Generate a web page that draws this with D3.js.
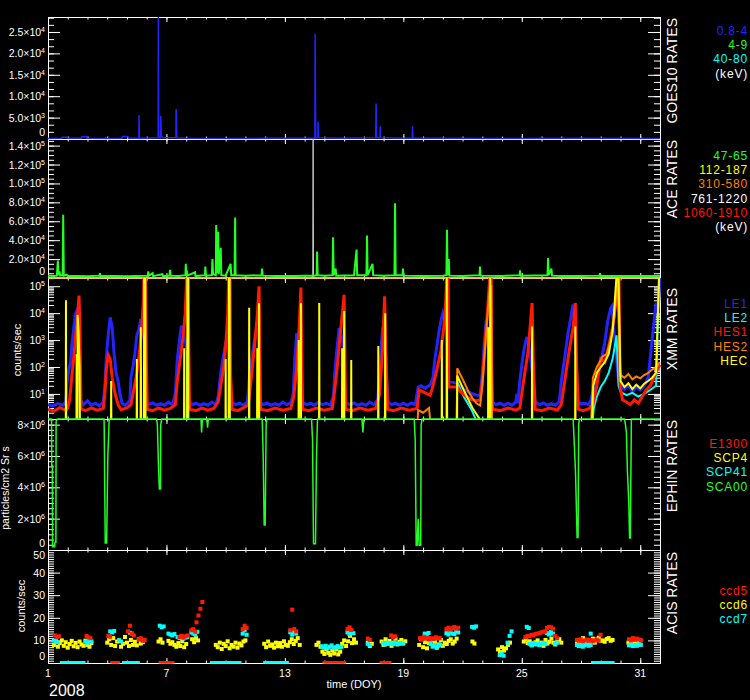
<!DOCTYPE html>
<html><head><meta charset="utf-8">
<script src="https://cdn.jsdelivr.net/npm/d3@7"></script>
<style>
body{margin:0;background:#000}
svg{display:block;background:#000}
text{font-family:"Liberation Sans",Arial,sans-serif;fill:#fff}
</style></head><body>
<svg id="chart" width="750" height="700"></svg>
<script>
// ---------------- DATA ----------------
const dayTicksMajor = [1, 7, 13, 19, 25, 31];
const dayTicksMinor = d3.range(1, 33);
const dayLabels = ["1", "7", "13", "19", "25", "31"];

// GOES10 0.8-4 keV rates: [DOY, rate]
const goes08to4 = [[1.0,100],[1.7,150],[1.72,400],[1.95,400],[1.97,150],[2.7,150],[2.72,500],[2.95,500],[2.97,150],[3.9,100],[3.92,300],[3.96,100],[4.75,150],[4.77,600],[5.05,600],[5.07,150],[5.6,150],[5.61,5600],[5.63,150],[6.0,200],[6.58,300],[6.59,30000],[6.61,300],[6.70,300],[6.71,5400],[6.74,800],[6.8,300],[7.48,300],[7.49,7000],[7.51,3500],[7.53,300],[8.0,150],[10.0,120],[12.0,150],[14.52,200],[14.53,24500],[14.56,300],[14.67,300],[14.68,4000],[14.7,300],[16.0,200],[17.6,300],[17.62,8300],[17.65,300],[17.82,300],[17.83,3000],[17.85,300],[19.45,200],[19.46,3000],[19.48,200],[21.0,150],[24.0,120],[28.0,150],[32,100]];

// ACE rates: [DOY, rate]
const ace47to65 = [[1.0,2500],[1.3,2000],[1.45,2500],[1.5,18400],[1.53,3000],[1.58,7000],[1.62,2500],[1.74,3000],[1.77,67000],[1.8,2500],[1.95,3500],[2.0,2000],[2.5,2200],[3.0,1800],[3.6,2500],[3.63,5000],[3.66,2000],[4.3,2000],[5.0,1800],[5.5,2200],[6.05,2500],[6.08,7000],[6.11,2500],[6.3,5000],[6.32,2000],[6.8,4000],[6.82,2000],[7.15,2500],[7.18,8500],[7.21,2500],[7.6,2000],[7.96,3000],[7.98,15000],[8.0,3000],[8.03,8000],[8.06,2500],[8.45,6000],[8.47,2000],[8.95,3000],[8.97,12000],[9.0,2500],[9.3,3000],[9.33,20000],[9.36,4000],[9.5,3000],[9.52,56000],[9.55,5000],[9.62,49000],[9.65,4000],[9.75,32000],[9.78,3000],[10.0,2500],[10.25,15000],[10.28,3000],[10.45,3000],[10.48,64000],[10.5,3000],[11.0,2500],[11.82,3000],[11.84,10000],[11.87,2500],[12.5,2000],[13.0,2200],[13.5,2000],[14.0,2500],[14.5,2500],[14.61,3000],[14.63,28000],[14.66,3000],[15.0,2500],[15.41,3000],[15.44,43000],[15.47,3000],[15.57,10000],[15.6,2500],[16.5,3000],[16.63,30000],[16.66,3000],[17.13,3000],[17.16,45000],[17.19,3000],[17.44,15000],[17.47,3000],[18.0,2500],[18.55,3000],[18.58,79000],[18.61,3000],[18.96,3000],[18.98,10000],[19.01,2500],[20.0,2200],[21.0,2500],[21.18,3000],[21.21,51000],[21.24,3000],[21.3,20000],[21.33,2500],[22.0,2200],[22.86,3000],[22.88,12000],[22.91,2500],[24.0,2200],[24.89,3000],[24.91,8000],[24.94,2500],[26.3,3000],[26.33,21000],[26.36,3000],[26.5,10000],[26.53,2500],[27.0,2200],[28.0,2000],[28.94,2500],[28.96,5000],[28.99,2000],[30.0,2000],[31.0,2200],[32.0,2000]];
const ace112to187 = [[1,0],[32,0]];
const ace310to580 = [[1,0],[32,0]];
const ace761to1220 = [[1,0],[14.41,0],[14.43,160000],[14.45,0],[32,0]];
const ace1060to1910 = [[1,0],[32,0]];

// XMM rates: [DOY, counts/sec]
const xmmLE1 = [[1.0,4],[1.25,3.6],[1.5,4.4],[1.75,3.8],[1.9,5],[1.95,20],[2.05,80],[2.15,150],[2.2,600],[2.3,2500],[2.38,9000],[2.45,12000],[2.5,6000],[2.55,2000],[2.6,300],[2.65,6],[2.8,4],[3.0,5.5],[3.2,3.8],[3.4,4.5],[3.6,3.6],[3.8,5],[3.9,30],[3.95,200],[4.05,1500],[4.15,7000],[4.25,3000],[4.35,300],[4.45,60],[4.55,30],[4.65,10],[4.75,4.5],[4.9,3.8],[5.05,4.6],[5.15,6],[5.2,40],[5.3,100],[5.4,300],[5.5,1500],[5.6,2500],[5.7,6000],[5.8,3000],[5.88,800],[5.95,10],[6.05,4],[6.3,4.6],[6.5,3.8],[6.7,4.4],[6.9,3.8],[7.1,5],[7.3,4],[7.45,10],[7.55,200],[7.65,800],[7.75,3400],[7.85,2000],[7.95,1000],[8.05,300],[8.12,6],[8.3,4],[8.5,4.5],[8.7,3.8],[8.9,4.4],[9.1,3.8],[9.3,5],[9.5,4],[9.62,8],[9.75,60],[9.9,300],[10.0,800],[10.06,1000],[10.12,400],[10.2,60],[10.3,5],[10.5,4],[10.7,4.5],[10.9,3.8],[11.1,5],[11.2,40],[11.35,300],[11.5,1500],[11.58,2800],[11.65,1000],[11.72,5],[11.9,4],[12.1,4.6],[12.3,3.8],[12.5,4.4],[12.7,3.8],[12.9,5],[13.1,4],[13.3,4.6],[13.42,10],[13.5,200],[13.6,1800],[13.7,800],[13.8,300],[13.88,5],[14.1,4],[14.3,4.5],[14.5,3.8],[14.7,5],[14.9,4],[15.1,4.5],[15.3,3.8],[15.45,8],[15.55,100],[15.65,600],[15.75,2800],[15.85,1500],[15.95,600],[16.05,5],[16.3,4],[16.5,4.6],[16.7,3.8],[16.9,4.4],[17.1,3.8],[17.3,5],[17.5,4],[17.7,6],[17.8,80],[17.9,1000],[17.96,3200],[18.05,1000],[18.15,50],[18.23,5],[18.4,4],[18.6,4.5],[18.8,3.8],[19.0,4.5],[19.2,3.8],[19.4,4.6],[19.6,4],[19.75,18],[19.9,20],[20.1,16],[20.36,22],[20.5,40],[20.6,200],[20.7,600],[20.8,2000],[20.9,5000],[21.0,10000],[21.1,6000],[21.2,3000],[21.27,30],[21.73,24],[21.9,18],[22.1,14],[22.3,12],[22.5,10],[22.7,9],[22.89,9],[23.0,60],[23.1,800],[23.2,5600],[23.3,1000],[23.4,300],[23.5,5],[23.7,4],[23.9,4.5],[24.1,3.8],[24.3,4.5],[24.5,3.8],[24.7,5],[24.75,10],[24.8,4.5],[24.9,30],[25.0,120],[25.1,400],[25.2,900],[25.26,1300],[25.35,600],[25.45,200],[25.55,50],[25.68,5],[25.9,4],[26.1,4.6],[26.3,3.8],[26.5,4.4],[26.7,3.8],[26.9,5],[27.0,30],[27.2,300],[27.35,2000],[27.5,8000],[27.59,21000],[27.68,5000],[27.75,200],[27.86,5],[28.0,4.2],[28.2,4.5],[28.4,4],[28.5,6],[28.6,12],[28.8,40],[29.0,150],[29.2,800],[29.35,5000],[29.5,15000],[29.57,18000],[29.65,3000],[29.8,200],[29.9,30],[30.0,20],[30.2,15],[30.4,22],[30.6,12],[30.8,18],[31.0,14],[31.2,20],[31.4,40],[31.5,200],[31.6,1000],[31.7,5000],[31.8,24000],[31.9,10000],[32.0,200000]];
const xmmLE2 = [[1.0,0.5],[8.03,0.5],[8.05,400],[8.07,0.5],[10.15,0.5],[10.17,800],[10.19,0.5],[21.7,0.5],[21.73,28],[21.9,14],[22.1,7],[22.3,4],[22.5,2.2],[22.65,1.2],[22.7,0.5],[28.55,0.5],[28.65,3],[28.8,8],[29.0,18],[29.2,30],[29.4,60],[29.6,200],[29.8,1500],[29.9,20],[30.0,12],[30.3,9],[30.6,11],[30.9,8],[31.2,10],[31.5,14],[31.8,20],[31.95,200000],[32,200000]];
const xmmHES1 = [[1.0,2.7],[1.3,2.3],[1.6,3.1],[1.9,2.5],[2.0,3],[2.1,6],[2.2,40],[2.3,200],[2.4,1500],[2.5,8000],[2.57,45000],[2.62,3000],[2.67,2.8],[2.9,2.4],[3.2,3],[3.5,2.5],[3.8,2.9],[3.88,10],[3.95,80],[4.05,280],[4.15,200],[4.25,40],[4.4,10],[4.55,4],[4.7,2.6],[5.0,3],[5.2,4],[5.35,15],[5.5,60],[5.65,500],[5.75,3000],[5.83,30000],[5.86,250000],[5.95,250000],[5.98,200],[6.03,2.7],[6.3,2.4],[6.6,3],[6.9,2.5],[7.2,2.9],[7.45,4],[7.55,30],[7.7,200],[7.85,1500],[7.95,10000],[8.03,250000],[8.1,250000],[8.13,500],[8.17,2.7],[8.5,2.4],[8.8,3],[9.1,2.5],[9.4,2.9],[9.62,5],[9.75,20],[9.9,100],[10.0,600],[10.1,8000],[10.15,250000],[10.22,250000],[10.25,50],[10.33,2.7],[10.6,2.4],[10.9,3],[11.15,4],[11.3,40],[11.45,500],[11.6,8000],[11.69,100000],[11.73,1000],[11.77,2.7],[12.1,2.4],[12.5,3],[12.9,2.5],[13.3,2.9],[13.45,8],[13.6,100],[13.72,3000],[13.81,90000],[13.85,500],[13.9,2.7],[14.2,2.4],[14.6,3],[15.0,2.5],[15.4,2.9],[15.5,10],[15.65,100],[15.8,1500],[15.95,20000],[16.0,48000],[16.04,200],[16.08,2.7],[16.4,2.4],[16.8,3],[17.2,2.5],[17.6,2.9],[17.8,10],[17.95,500],[18.05,42000],[18.12,300],[18.2,2.7],[18.5,2.4],[18.9,3],[19.3,2.5],[19.7,2.9],[19.8,14],[20.0,12],[20.2,10],[20.36,9],[20.5,20],[20.7,80],[20.9,400],[21.05,3000],[21.15,30000],[21.2,250000],[21.27,250000],[21.3,18],[21.73,18],[21.9,12],[22.1,9],[22.3,7],[22.5,6],[22.7,5.6],[22.89,6],[23.0,30],[23.15,1000],[23.3,30000],[23.38,250000],[23.45,250000],[23.48,100],[23.52,2.7],[23.9,2.4],[24.3,3],[24.7,2.5],[24.9,3],[25.0,10],[25.15,60],[25.3,300],[25.42,3000],[25.52,24000],[25.58,200],[25.68,2.7],[26.0,2.4],[26.4,3],[26.8,2.5],[27.0,4],[27.2,40],[27.4,400],[27.6,3000],[27.71,24000],[27.78,100],[27.86,2.7],[28.1,2.4],[28.4,2.8],[28.6,4],[28.8,20],[29.0,200],[29.2,150],[29.4,600],[29.6,3000],[29.75,20000],[29.85,250000],[29.92,250000],[29.98,20],[30.1,6],[30.3,5],[30.5,4],[30.7,6],[30.9,4.5],[31.1,8],[31.3,14],[31.5,20],[31.7,40],[31.85,80],[32.0,120]];
const xmmHES2 = [[1.0,0.5],[19.7,0.5],[19.75,2.5],[20.0,2],[20.3,3],[20.4,0.5],[21.7,0.5],[21.73,90],[21.9,50],[22.1,25],[22.3,12],[22.5,7],[22.7,4.5],[22.89,3.7],[23.0,20],[23.2,2000],[23.38,100000],[23.45,100000],[23.5,0.5],[28.5,0.5],[28.6,40],[28.8,100],[29.0,180],[29.1,250],[29.3,300],[29.5,1000],[29.7,8000],[29.85,200000],[29.95,200],[30.0,50],[30.2,40],[30.4,55],[30.6,35],[30.8,45],[31.0,38],[31.2,50],[31.4,60],[31.6,80],[31.8,100],[32,150]];
const xmmHEC = [[1.0,0.5],[1.90,0.5],[1.91,30000],[1.92,0.5],[2.44,0.5],[2.45,300],[2.47,0.5],[2.49,0.5],[2.5,8600],[2.55,2000],[2.6,100],[2.62,0.5],[4.19,0.5],[4.2,30],[4.21,0.5],[5.49,0.5],[5.5,200],[5.51,0.5],[5.69,0.5],[5.7,3000],[5.72,0.5],[5.86,0.5],[5.87,250000],[5.93,250000],[5.94,0.5],[7.89,0.5],[7.9,500],[7.91,0.5],[8.05,0.5],[8.06,250000],[8.1,250000],[8.11,0.5],[9.99,0.5],[10.0,200],[10.01,0.5],[10.16,0.5],[10.17,250000],[10.2,250000],[10.21,0.5],[11.18,0.5],[11.19,16000],[11.2,0.5],[11.59,0.5],[11.6,500],[11.61,0.5],[11.68,0.5],[11.69,24000],[11.7,0.5],[13.69,0.5],[13.7,1000],[13.71,0.5],[13.8,0.5],[13.81,24000],[13.82,0.5],[14.73,0.5],[14.74,24000],[14.75,0.5],[15.89,0.5],[15.9,500],[15.91,0.5],[15.99,0.5],[16.0,12000],[16.01,0.5],[16.35,0.5],[16.36,180],[16.37,0.5],[17.72,0.5],[17.73,600],[17.74,0.5],[18.07,0.5],[18.08,10000],[18.09,0.5],[20.94,0.5],[20.95,1000],[20.96,0.5],[21.19,0.5],[21.2,250000],[21.22,0.5],[21.72,0.5],[21.73,48],[21.9,25],[22.1,12],[22.3,6],[22.5,3],[22.7,1.8],[22.85,1.2],[22.9,0.5],[23.29,0.5],[23.3,3000],[23.31,0.5],[23.39,0.5],[23.4,250000],[23.42,0.5],[25.51,0.5],[25.52,3200],[25.53,0.5],[27.7,0.5],[27.71,3200],[27.72,0.5],[28.55,0.5],[28.62,20],[28.8,60],[29.0,100],[29.2,150],[29.4,300],[29.6,2000],[29.8,250000],[29.9,250000],[30.0,30],[30.2,18],[30.4,25],[30.6,15],[30.8,22],[31.0,16],[31.2,24],[31.4,30],[31.6,40],[31.8,60],[31.95,200000],[32,200000]];

// EPHIN SCA00 rates: [DOY, particles/cm2 Sr s]
const ephinSCA00 = [[1.0,9e6],[1.18,9e6],[1.19,5.4e6],[1.22,5.4e6],[1.23,2e5],[1.34,2e5],[1.35,5e5],[1.4,5e5],[1.41,8.2e6],[1.47,9e6],[3.84,9e6],[3.85,7.5e6],[3.9,4.5e5],[3.97,4.5e5],[4.03,5.9e6],[4.1,9e6],[6.5,9e6],[6.54,8e6],[6.59,5.6e6],[6.64,3.9e6],[6.7,3.9e6],[6.71,8e6],[6.76,9e6],[8.75,9e6],[8.78,7.5e6],[8.82,9e6],[9.05,9e6],[9.08,7.8e6],[9.12,9e6],[11.85,9e6],[11.9,6e6],[11.95,1.6e6],[12.0,1.6e6],[12.05,8e6],[12.08,9e6],[14.35,9e6],[14.4,7e6],[14.45,4e5],[14.55,4e5],[14.6,6e6],[14.65,9e6],[16.9,9e6],[16.95,7.5e6],[17.0,9e6],[19.55,9e6],[19.6,7e6],[19.65,3e5],[19.7,3e5],[19.75,2e6],[19.8,3e5],[19.88,3e5],[19.9,8e6],[19.95,9e6],[27.6,9e6],[27.65,7e6],[27.72,5e6],[27.8,8e5],[27.85,8e5],[27.88,8e6],[27.92,9e6],[30.2,9e6],[30.25,8e6],[30.3,7.5e6],[30.35,5e6],[30.42,3e6],[30.46,7.7e5],[30.5,7.7e5],[30.52,4e6],[30.55,9e6],[32,9e6]];

// ACIS rates, sampled every 0.1 day: [startDOY, [counts/sec ...]]
const acisStep = 0.1;
const acisCcd6 = [
 [1.3,[8,9.6,7.2,8.8,10,7.6,9.2,6.8,8.4,9.8,7.4,8.9,7,9.5,8.2,7.6,9.9,8,7.2,8.8]],
 [4.0,[9,10.5,8,11,7.5,9.5,10,7.2,8.5,11.5,9,7.5,10.2,8,9.4,7.8,10.5,8.6,9.2]],
 [6.6,[9.5,10.5,9,null,null,9.8,8.5,9.2,8,7.2,8.8,7.5,9.6,7,8.4,null,null,10.5,9.2,11,10]],
 [9.5,[8,7,9,6.2,8.5,7.5,9.6,6.5,8,7.2,9,6.8,8.6,7.8,9.5,10]],
 [11.95,[8.5,7,9.5,7.6,8.2,6.8,9,7.4,8.8,7.2,9.6,8,7.6,9.2,10.5,8.4,9.8,11,8]],
 [14.6,[8,9,7.2,5,4,6,4.5,3.6,5.5,4.2,6,3.8,5,8.5,10,7.5,9.6,12,8.8,10.5,9]],
 [17.2,[9,7.5,8.5]],
 [17.9,[9.5,8,10.5,8.6,9.8,7.6,9,10.8,8.2,9.4,10.2,8.8,9.6]],
 [19.8,[8,10.5,7,9.2,6.5,8.8,10,7.5,9.4,6.8,8.2,10.2,7.6,9,8.4,9.8,10.5,8.6,9.5,10.8]],
 [22.5,[9.5,8.6]],
 [23.8,[6,4.8,7,5.5,6.5,8,9]],
 [25.1,[9.5,10.5,8.8,9.6,7.8,8.5,9.2,10,8,9,7.6,10.2,8.6,9.4,10.8,9,8.2,9.8,10.5,9]],
 [27.8,[9.5,10.2,8.6,11,9.2,10,8.8,9.6,10.8,9,10.4,11.2,9.8,10,9.4,10.6,11,9.8,10.2]],
 [30.4,[9,10,8.6,9.8,8.2,9.5,10]]
];
const acisCcd7 = [
 [1.3,[10,9.5,9.2]],[1.7,[0,0,0,0,0,0,0,0,0,0,0,0]],[2.9,[9.5,9,10,9.6]],
 [4.15,[14,13.5,14.2]],[4.6,[10,9.5]],[4.85,[0,0,0,0,0,0,0,0]],[5.15,[13.4,13]],[5.8,[10]],
 [6.66,[16.5,15.8,16.2]],[7.1,[13,12.6,12.2,12.8]],[7.56,[11.5,11,11.6,10.8,11.2,11.5]],[8.26,[13.5,13,12.6,13.8]],
 [9.3,[0,0,0,0,0,0,0,0,0,0,0,0,0,0,0]],[10.86,[13,14.5,12.5]],
 [12.0,[0,0,0,0,0,0,0,0,0,0,0,0]],[13.27,[13.6,12.5,14,13]],
 [14.87,[7.4,6.8,7.6,6.5,7.2,7.8,6.6,7,7.5,6.9,7.2]],[16.17,[13.5,12.8,14,13.2]],
 [17.2,[8.5,8]],[17.97,[8.8,8.2,9,8.5,8.7,8.3,9,8.6,8.4,8.9,8.5]],
 [20.08,[13,12.8,13.3]],[20.38,[8.5,7.2,8,6.8,7.6,8.2]],[21.18,[13.2,12.6,13.8,13,12.8,14.2,13.5]],
 [22.48,[16,15.6,16.2]],[23.88,[3.5,4,3.2]],[24.28,[9,12,14]],
 [25.25,[16,15.5]],[25.39,[8.5,8,8.8,8.2,8.6,7.9,8.4,8.9,8.3]],[26.28,[13.2,12.6,13.8,13]],[26.68,[8.5,9]],
 [27.79,[8,7.5,8.2,7.2,7.8,8.4,7.6,8]],[28.49,[13]],[28.6,[0,0,0,0,0,0,0,0,0,0,0]],
 [30.43,[7.8,8.2,7.5,8,7.6,8.3,8]]
];
const acisCcd5 = [
 [1.35,[12.2,11.5,11.8]],[2.95,[12,11.4,11]],
 [4.05,[12,11.6]],[4.25,[0,0,0,0]],[5.05,[14,16.5,13,12.2]],[5.6,[10.5,11,9.8,10.2]],
 [6.7,[0,0,0,0,0,0,0]],[7.66,[11.5,12,11.2,11.8,12.2]],[8.26,[14.5,15,13.8]],[8.52,[18,21,24,27]],
 [10.86,[15,16.5,15.5]],[13.27,[14.5,23.6,15,14]],
 [15.0,[0,0,0,0,0,0,0,0,0,0,0]],[16.17,[15,15.8,14.6]],[17.2,[10.8,10.2]],
 [17.9,[0,0,0,0,0]],[18.38,[12.2,11.4,11.8]],
 [19.84,[11,10.5,11.6,10.8,11.2,10.4,11,10.6,11.4,10.9,11]],[21.18,[15,15.6,14.8,15.4,15.9,15.2,15.6]],
 [25.19,[11.5,12,11.8,12.5,12.2,12.8,13,13.2,13.6,13.8,14]],[26.28,[15.5,16,15.8,15.2]],[26.68,[12,11]],
 [27.79,[10.2,9.8,10.5,9.6,10,10.4,9.8,10.2,9.6,10,10.3,9.9]],[28.99,[12.5]],
 [30.43,[10.5,10,11,10.2,10.8,10.4,10]]
];

// axis tick values
const goesTicks = [0,5e3,1e4,1.5e4,2e4,2.5e4];
const aceTicks = [0,2e4,4e4,6e4,8e4,1e5,1.2e5,1.4e5];
const xmmTicks = [1e1,1e2,1e3,1e4,1e5];
const ephinTicks = [0,2e6,4e6,6e6,8e6];
const acisTicks = [0,10,20,30,40,50];

// ---------------- DRAWING ----------------
const svg = d3.select("#chart");
const X0 = 48, X1 = 660;
const x = d3.scaleLinear().domain([1,32]).range([X0,X1]);

const C = {blue:"#2424ff", green:"#22ff22", cyan:"#00ffff", yellow:"#ffff00", orange:"#ff8000", red:"#ff1a00", white:"#ffffff"};

const panels = [
 {id:"goes", top:17, bottom:139, y:d3.scaleLinear().domain([0,28500]).range([139,17]), major:goesTicks, minor:d3.range(0,28500,5000/3), fmt:"sci1", title:"GOES10 RATES", titleEnd:18},
 {id:"ace", top:139, bottom:278, y:d3.scaleLinear().domain([0,147000]).range([278,139]), major:aceTicks, minor:d3.range(0,147000,5000), fmt:"sci1", title:"ACE RATES", titleEnd:140},
 {id:"xmm", top:278, bottom:419, y:d3.scaleLog().domain([1.17,2.02e5]).range([419,278]), major:xmmTicks, minor:[], fmt:"pow", title:"XMM RATES", titleEnd:288},
 {id:"ephin", top:419, bottom:550, y:d3.scaleLinear().domain([0,8.36e6]).range([550,419]), major:ephinTicks, minor:d3.range(0,8.36e6,2e6/6), fmt:"sci0", title:"EPHIN RATES", titleEnd:420},
 {id:"acis", top:550, bottom:663, y:d3.scaleLinear().domain([0,50]).range([663,550]), major:acisTicks, minor:d3.range(0,51,1), fmt:"plain", title:"ACIS RATES", titleEnd:552}
];
const pX = panels[2];
for (let e=0;e<=5;e++) for (let m=2;m<=9;m++){const v=m*Math.pow(10,e); if(v>=1.17&&v<=2.02e5) pX.minor.push(v);}

const defs = svg.append("defs");
panels.forEach(p=>{
  defs.append("clipPath").attr("id","clip-"+p.id).append("rect")
    .attr("x",X0).attr("y",p.top).attr("width",X1-X0+1).attr("height",p.bottom-p.top+0.5);
});

function style(g){ g.attr("color","#fff"); g.selectAll("path.domain").attr("stroke","#fff").attr("stroke-width",1); g.selectAll("line").attr("stroke","#fff").attr("stroke-width",1); }

panels.forEach(p=>{
  const g = svg.append("g");
  g.append("g").attr("transform",`translate(${X0},0)`).call(d3.axisRight(p.y).tickValues(p.minor).tickSize(6).tickSizeOuter(0).tickFormat("")).call(style);
  g.append("g").attr("transform",`translate(${X0},0)`).call(d3.axisRight(p.y).tickValues(p.major).tickSize(12).tickSizeOuter(0).tickFormat("")).call(style);
  g.append("g").attr("transform",`translate(${X1},0)`).call(d3.axisLeft(p.y).tickValues(p.minor).tickSize(6).tickSizeOuter(0).tickFormat("")).call(style);
  g.append("g").attr("transform",`translate(${X1},0)`).call(d3.axisLeft(p.y).tickValues(p.major).tickSize(12).tickSizeOuter(0).tickFormat("")).call(style);
  g.append("g").attr("transform",`translate(0,${p.top})`).call(d3.axisBottom(x).tickValues(dayTicksMinor).tickSize(2.5).tickSizeOuter(0).tickFormat("")).call(style);
  g.append("g").attr("transform",`translate(0,${p.top})`).call(d3.axisBottom(x).tickValues(dayTicksMajor).tickSize(5).tickSizeOuter(0).tickFormat("")).call(style);
  g.append("g").attr("transform",`translate(0,${p.bottom})`).call(d3.axisTop(x).tickValues(dayTicksMinor).tickSize(2.5).tickSizeOuter(0).tickFormat("")).call(style);
  g.append("g").attr("transform",`translate(0,${p.bottom})`).call(d3.axisTop(x).tickValues(dayTicksMajor).tickSize(5).tickSizeOuter(0).tickFormat("")).call(style);

  p.major.forEach(v=>{
    let ty = p.y(v);
    let base;
    if (ty >= p.bottom - 1) base = ty - 3.5;
    else if (ty <= p.top + 1) base = ty + 8.5;
    else base = ty + 4;
    const t = g.append("text").attr("x",45).attr("y",base).attr("text-anchor","end").attr("font-size",10.5);
    if (v===0 || p.fmt==="plain") { t.text(String(v)); return; }
    let mant, exp;
    if (p.fmt==="pow") { exp = Math.round(Math.log10(v)); t.append("tspan").text("10"); }
    else {
      exp = Math.floor(Math.log10(v)+1e-9); mant = v/Math.pow(10,exp);
      t.append("tspan").text((p.fmt==="sci1"? mant.toFixed(1): mant.toFixed(0))+"×10");
    }
    t.append("tspan").attr("font-size",7).attr("dy",-4).text(String(exp));
  });

  svg.append("text").attr("transform",`translate(677,${p.titleEnd}) rotate(-90)`)
    .attr("text-anchor","end").attr("font-size",14).text(p.title);
});

const line = (ys)=> d3.line().x(d=>x(d[0])).y(d=>ys(d[1]));
function drawLine(p, data, color, w){
  svg.append("path").attr("clip-path",`url(#clip-${p.id})`).datum(data)
    .attr("d", line(p.y)).attr("fill","none").attr("stroke",color).attr("stroke-width",w).attr("stroke-linejoin","miter");
}

drawLine(panels[0], goes08to4, C.blue, 1.5);
drawLine(panels[1], ace1060to1910, C.red, 1);
drawLine(panels[1], ace761to1220, "#c8c8c8", 1);
drawLine(panels[1], ace310to580, C.orange, 1);
drawLine(panels[1], ace112to187, C.yellow, 1);
drawLine(panels[1], ace47to65, C.green, 2);
drawLine(panels[2], xmmLE1, C.blue, 3);
drawLine(panels[2], xmmLE2, C.cyan, 2);
drawLine(panels[2], xmmHES1, C.red, 3);
drawLine(panels[2], xmmHES2, C.orange, 2);
drawLine(panels[2], xmmHEC, C.yellow, 2);
{
  const p = panels[3];
  const ys = p.y.copy().clamp(true);
  svg.append("path").datum(ephinSCA00).attr("d", line(ys)).attr("fill","none").attr("stroke",C.green).attr("stroke-width",1.5);
}
function drawAcis(segs, color){
  const pts = [];
  segs.forEach(([t0, vals])=> vals.forEach((v,i)=>{ if(v!==null) pts.push([t0+i*acisStep, v]); }));
  const p = panels[4];
  svg.append("g").attr("clip-path","url(#clip-acis)").selectAll("rect").data(pts).join("rect")
    .attr("x",d=>x(d[0])-2).attr("y",d=>p.y(d[1])-2).attr("width",4).attr("height",4).attr("fill",color);
}
drawAcis(acisCcd6, C.yellow);
drawAcis(acisCcd7, C.cyan);
drawAcis(acisCcd5, C.red);

const legends = [
 {items:[["0.8-4",C.blue],["4-9",C.green],["40-80",C.cyan],["(keV)",C.white]], y0:35},
 {items:[["47-65",C.green],["112-187",C.yellow],["310-580",C.orange],["761-1220",C.white],["1060-1910",C.red],["(keV)",C.white]], y0:160},
 {items:[["LE1",C.blue],["LE2",C.cyan],["HES1",C.red],["HES2",C.orange],["HEC",C.yellow]], y0:308},
 {items:[["E1300",C.red],["SCP4",C.yellow],["SCP41",C.cyan],["SCA00",C.green]], y0:448},
 {items:[["ccd5",C.red],["ccd6",C.yellow],["ccd7",C.cyan]], y0:595}
];
legends.forEach(L=>{
  L.items.forEach(([t,c],i)=>{
    svg.append("text").attr("x",748).attr("y",L.y0+i*14.2).attr("text-anchor","end")
      .attr("font-size",12).attr("letter-spacing",0.8).style("fill",c).text(t);
  });
});

svg.append("text").attr("transform","translate(21,350) rotate(-90)").attr("text-anchor","middle").attr("font-size",11).text("counts/sec");
svg.append("text").attr("transform","translate(8.5,488) rotate(-90)").attr("text-anchor","middle").attr("font-size",10.5).text("particles/cm2 Sr s");
svg.append("text").attr("transform","translate(25,606) rotate(-90)").attr("text-anchor","middle").attr("font-size",11).text("counts/sec");

svg.append("g").selectAll("text").data(dayTicksMajor).join("text")
  .attr("x",d=>x(d)).attr("y",677).attr("text-anchor","middle").attr("font-size",10.5)
  .text((d,i)=>dayLabels[i]);
svg.append("text").attr("x",354).attr("y",688).attr("text-anchor","middle").attr("font-size",11).text("time (DOY)");
svg.append("text").attr("x",49).attr("y",696).attr("font-size",16).text("2008");
</script></body></html>
